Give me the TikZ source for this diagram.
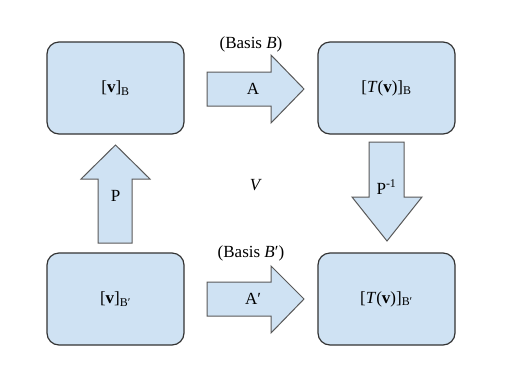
\documentclass[tikz,border=0pt]{standalone}
\usepackage{fontspec}
\setmainfont{Liberation Serif}
\usepackage{xcolor}
\definecolor{boxfill}{HTML}{CFE2F3}
\definecolor{boxline}{HTML}{333333}
\definecolor{arrline}{HTML}{595959}
\begin{document}
\begin{tikzpicture}[x=1pt, y=-1pt,
    font=\fontsize{17}{20}\selectfont,
    coordbox/.style={draw=boxline, fill=boxfill, line width=1.2pt, rounded corners=12pt,
      minimum width=137pt, minimum height=92pt, inner sep=0pt},
    blockarrow/.style={draw=arrline, fill=boxfill, line width=1pt},
    lbl/.style={inner sep=0pt}]
  \useasboundingbox (0,0) rectangle (512,384);
  % the four coordinate boxes
  \node[coordbox] (vB)  at (115.5,88)  {[\textbf{v}]\textsubscript{B}};
  \node[coordbox] (TvB) at (386.5,88)  {[\textit{T}(\textbf{v})]\textsubscript{B}};
  \node[coordbox] (vBp) at (115.5,299) {[\textbf{v}]\textsubscript{B′}};
  \node[coordbox] (TvBp) at (386.5,299) {[\textit{T}(\textbf{v})]\textsubscript{B′}};
  % block arrows
  \draw[blockarrow] (207,72) -- (271,72) -- (271,55) -- (304,89) -- (271,123) -- (271,106) -- (207,106) -- cycle;
  \draw[blockarrow] (207,282) -- (271,282) -- (271,266) -- (304,299) -- (271,333) -- (271,316) -- (207,316) -- cycle;
  \draw[blockarrow] (98,243) -- (98,179) -- (81,179) -- (115.5,145) -- (150,179) -- (132,179) -- (132,243) -- cycle;
  \draw[blockarrow] (369,142) -- (369,197) -- (352,197) -- (387,241) -- (422,197) -- (404,197) -- (404,142) -- cycle;
  % labels
  \node[lbl] (A)    at (253,89)  {A};
  \node[lbl] (Ap)   at (253,299) {A′};
  \node[lbl] (P)    at (115.5,196) {P};
  \node[lbl] (Pinv) at (386.5,187) {P\textsuperscript{-1}};
  \node[lbl] (V)    at (256,185) {\textit{V}};
  \node[lbl] (basB)  at (251,44)  {(Basis \textit{B})};
  \node[lbl] (basBp) at (251,253) {(Basis \textit{B}′)};
\end{tikzpicture}
\end{document}
